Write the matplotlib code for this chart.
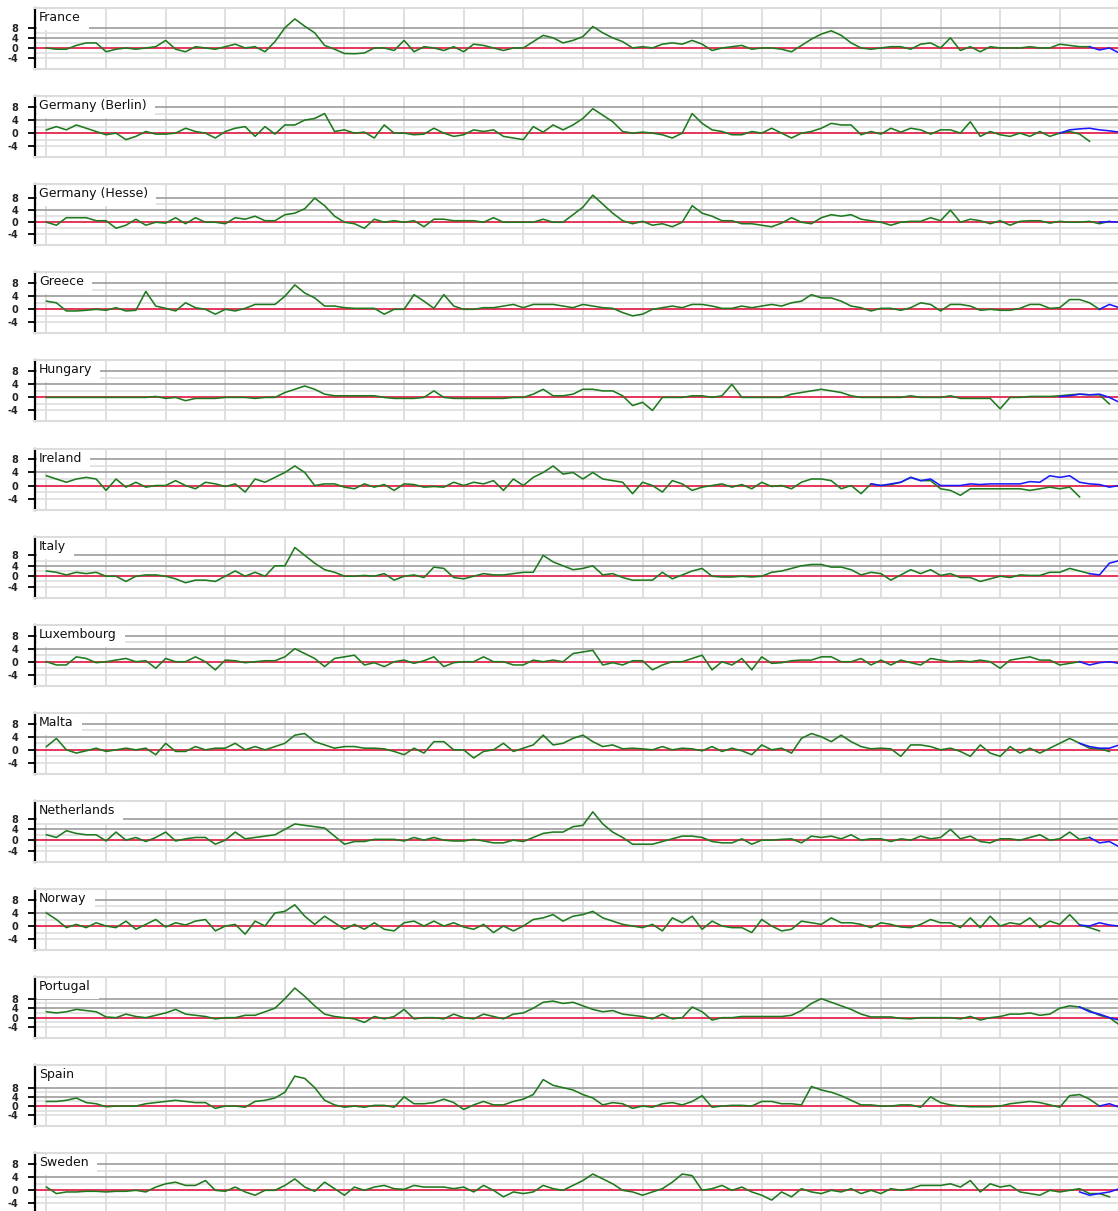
import numpy as np
import matplotlib
matplotlib.use("Agg")
import matplotlib.pyplot as plt
from matplotlib.patches import Rectangle
from matplotlib.transforms import IdentityTransform, offset_copy

# ---------------- data (bimonthly values, month 0 .. 216) ----------------
countries = ["France", "Germany (Berlin)", "Germany (Hesse)", "Greece", "Hungary",
             "Ireland", "Italy", "Luxembourg", "Malta", "Netherlands", "Norway",
             "Portugal", "Spain", "Sweden"]

month_step = 2

france_green = [0, -0.5, -0.5, 1, 2, 2,  -1.5, -0.5, 0, -0.5, 0, 0.5,  3, -0.5, -1.5, 0.5, 0, -0.5,
                0.5, 1.5, 0, 0.5, -1.5, 2.5,  8, 11.5, 8.6, 6, 1, -0.5,  -2.2, -2.3, -2, 0, 0, -1,
                3, -1.5, 0.5, 0, -1, 0.5,  -1.5, 1.5, 1, 0, -1, 0,  0, 2.5, 5, 4, 2, 3,
                4.5, 8.5, 6, 4, 2.5, 0,  0.5, 0, 1.5, 2, 1.5, 3,  1.5, -1, 0, 0.5, 1, -0.5,
                0, 0, -0.5, -1.5, 1, 3.5,  5.5, 6.8, 5, 2, 0, -0.5,  0, 0.5, 0.5, -0.5, 1.5, 2,
                0, 4, -1, 0.5, -1.5, 0.5,  0, 0, 0, 0.5, 0, 0,  1.5, 1, 0.5, 0.5]
france_blue = [0.5, -0.8, 0, -2]

berlin_green = [1, 2, 1, 2.5, 1.5, 0.5,  -0.5, 0, -2, -1, 0.5, -0.3,  -0.3, 0, 1.5, 0.5, 0, -1.5,
                0.5, 1.5, 2, -1, 2, -0.3,  2.5, 2.5, 4, 4.5, 6, 0.5,  1, 0, 0.3, -1.5, 2.5, 0,
                0, -0.5, -0.3, 1.5, 0, -1,  -0.5, 1, 0.5, 1, -1, -1.5,  -2, 2, 0.3, 2.5, 1, 2.5,
                4.5, 7.5, 5.5, 3.5, 0.5, 0,  0.3, 0, -0.5, -1.5, 0, 6,  3, 1, 0.5, -0.5, -0.5, 0.5,
                0, 1.5, 0, -1.5, 0, 0.5,  1.5, 3, 2.5, 2.5, -0.5, 0.5,  -0.3, 1.5, 0.3, 1.5, 1, -0.3,
                1, 1, 0, 3.5, -1, 0.5,  -0.5, -1, 0, -1, 0.5, -1,  0, 0.5, -0.3, -2.5]
berlin_blue = [0, 1, 1.3, 1.5, 1, 0.7, 0.3]

hesse_green = [0, -1, 1.5, 1.5, 1.5, 0.5,  0.5, -2, -1, 1, -1, 0,  -0.3, 1.5, -0.5, 1.5, 0, 0,
               -0.5, 1.5, 1, 2, 0.5, 0.5,  2.5, 3, 4.5, 8, 5.5, 2,  0, -0.5, -2, 1, 0, 0.5,
               0, 0.5, -1.5, 1, 1, 0.5,  0.5, 0.5, 0, 1.5, 0, 0,  0, 0, 1, 0, 0, 2.5,
               5, 9, 6, 3, 0.5, -0.5,  0.3, -1, -0.5, -1.5, 0, 5.5,  3, 2, 0.5, 0.5, -0.5, -0.5,
               -1, -1.5, -0.3, 1.5, 0, -0.5,  1.5, 2.5, 2, 2.5, 1, 0.5,  0, -1, 0, 0.3, 0.3, 1.5,
               0.5, 4, 0, 1, 0.5, -0.5,  0.5, -1, 0.3, 0.5, 0.5, -0.3,  0.3, 0, 0, 0.3, -0.5, 0.3]
hesse_blue = [0, 0.2, 0]

greece_green = [2.5, 2, -0.5, -0.5, -0.3, 0,  -0.3, 0.5, -0.5, -0.3, 5.5, 1,  0.3, -0.5, 2, 0.5, 0, -1.5,
                0, -0.5, 0.3, 1.5, 1.5, 1.5,  4, 7.5, 5, 3.5, 1, 1,  0.5, 0.3, 0.3, 0.3, -1.5, 0,
                0, 4.5, 2.5, 0.3, 4.5, 1,  0, 0, 0.5, 0.5, 1, 1.5,  0.5, 1.5, 1.5, 1.5, 1, 0.5,
                1.5, 1, 0.5, 0.3, -1, -2,  -1.5, 0, 0.5, 1, 0.5, 1.5,  1.5, 1, 0.3, 0.3, 1, 0.5,
                1, 1.5, 1, 2, 2.5, 4.5,  3.5, 3.5, 2.5, 1, 0.5, -0.5,  0.3, 0.3, -0.3, 0.5, 2, 1.5,
                -0.5, 1.5, 1.5, 1, -0.3, 0,  -0.3, -0.3, 0.3, 1.5, 1.5, 0.3,  0.5, 3, 3, 2, 0]
greece_blue = [0, 1.5, 0.5]

hungary_green = [0, 0, 0, 0, 0, 0,  0, 0, 0, 0, 0, 0.3,  -0.3, 0, -1, -0.3, -0.3, -0.3,
                 0, 0, 0, -0.3, 0, 0,  1.5, 2.5, 3.5, 2.5, 1, 0.5,  0.5, 0.5, 0.5, 0.5, 0, -0.3,
                 -0.3, -0.3, 0, 2, 0, -0.3,  -0.3, -0.3, -0.3, -0.3, -0.3, 0,  0, 1, 2.5, 0.5, 0.5, 1,
                 2.5, 2.5, 2, 2, 0.5, -2.5,  -1.5, -4, 0, 0, 0, 0.5,  0.5, 0, 0.5, 4, 0, 0,
                 0, 0, 0, 1, 1.5, 2,  2.5, 2, 1.5, 0.5, 0, 0,  0, 0, 0, 0.5, 0, 0,
                 0, 0.5, -0.3, -0.3, -0.3, -0.3,  -3.5, 0, 0, 0.3, 0.3, 0.3,  0.5, 0.8, 1, 0.8, 0.8, -2]
hungary_blue = [0.3, 0.5, 1, 0.8, 1, 0, -1.5]

ireland_green = [3, 2, 1, 2, 2.5, 2,  -1.5, 2, -0.5, 1, -0.5, 0,  0, 1.5, 0, -1, 1, 0.5,
                 -0.3, 0.5, -2, 2, 1, 2.5,  4, 6, 4, 0, 0.5, 0.5,  -0.5, -1, 0.5, -0.5, 0.3, -1.5,
                 0.5, 0.3, -0.5, -0.3, -0.5, 1,  0, 1, 0.5, 1.5, -1.5, 2,  0, 2.5, 4, 6, 3.5, 4,
                 2, 4, 2, 1.5, 1, -2.5,  1, 0, -2, 1.5, 0.5, -1.5,  -0.5, 0, 0.5, -0.5, 0.3, -1,
                 1, -0.3, 0, -1, 1, 2,  2, 1.5, -1, 0, -2.5, 0.5,  0, 0.3, 1, 2.5, 1.5, 1.5,
                 -1, -1.5, -3, -1, -1, -1,  -1, -1, -1, -1.5, -1, -0.5,  -1, -0.5, -3.5]
ireland_blue = [0.5, 0, 0.5, 1, 2.5, 1.5, 2, 0, 0, 0, 0.5, 0.3, 0.5, 0.5, 0.5, 0.5,
                1.2, 1, 3, 2.5, 3, 1, 0.5, 0.3, -0.5, 0]

italy_green = [2, 1.5, 0.5, 1.5, 1, 1.5,  0, 0, -2, 0, 0.5, 0.5,  0, -1, -2.5, -1.5, -1.5, -2,
               0, 2, 0, 1.5, 0, 4,  4, 11, 8, 5, 2.5, 1.5,  0, 0, 0.3, 0, 1, -1.5,
               0, 0.5, -0.5, 3.5, 3, -0.5,  -1, 0, 1, 0.5, 0.5, 1,  1.5, 1.5, 8, 5.5, 4, 2.5,
               3, 4, 0.5, 1, -0.5, -1.5,  -1.5, -1.5, 1.5, -1, 0.5, 2,  3, 0, -0.3, -0.3, 0, -0.3,
               0, 1.5, 2, 3, 4, 4.5,  4.5, 3.5, 3.5, 2.5, 0.5, 1.5,  1, -1.5, 0.5, 2.5, 1, 2.5,
               0.3, 1, -0.5, -0.5, -2, -1,  0, -0.5, 0.5, 0.3, 0.3, 1.5,  1.5, 3, 2, 1]
italy_blue = [1, 0.5, 5, 6]

lux_green = [0, -1, -1, 1.5, 1, -0.3,  0, 0.5, 1, 0, 0.3, -2,  1, 0, 0, 1.5, 0, -2.5,
             0.5, 0.3, -0.3, 0, 0.3, 0.3,  1.5, 4, 2.5, 1, -1.5, 1,  1.5, 2, -1, -0.3, -1.5, 0,
             0.5, -0.5, 0.3, 1.5, -1.5, -0.3,  0, 0, 1.5, 0, 0, -1,  -1, 0.5, 0, 0.5, 0, 2.5,
             3, 3.5, -1, -0.3, -1, 0.3,  0.3, -2.5, -1, 0, 0, 1,  2, -2.5, 0, -1, 1, -2.5,
             1.5, -0.5, -0.3, 0.3, 0.5, 0.5,  1.5, 1.5, 0, 0, 1, -1,  0.5, -1, 0.5, -0.3, -1, 1,
             0.5, 0, 0.3, 0, 0.5, 0,  -2, 0.5, 1, 1.5, 0.5, 0.5,  -1, -0.5, 0]
lux_blue = [0, -1, -0.3, 0, -0.5]

malta_green = [1, 3.5, 0, -1, -0.3, 0.5,  -0.5, 0, 0.5, 0, 0.5, -1.5,  2, -0.5, -0.5, 1, 0, 0.5,
               0.5, 2, 0, 1, 0, 1,  2, 4.5, 5, 2.5, 1.5, 0.5,  1, 1, 0.5, 0.5, 0.3, -0.5,
               -1.5, 0.5, -1, 2.5, 2.5, 0,  0, -2.5, -0.5, 0, 2, -0.5,  0.5, 1.5, 4.5, 1.5, 2, 3.5,
               4.5, 2.5, 1, 1.5, 0.3, 0.5,  0.3, 0, 1, 0, 0.5, 0.3,  -0.3, 1, -0.5, 0.5, -0.3, -1.5,
               1.5, 0, 0.5, -1, 3.5, 5,  4, 2.5, 4.5, 2.5, 1, 0.3,  0.5, 0.3, -2, 1.5, 1.5, 1,
               0, 0.5, -0.5, -2, 1.5, -1,  -2, 1, -1, 0.5, -1, 0.5,  2, 3.5, 2, 0.5, 0.3, -0.5]
malta_blue = [2, 1, 0.5, 0.5, 1.5]

netherlands_green = [2, 1, 3.5, 2.5, 2, 2,  -0.3, 3, 0, 1, -0.5, 1,  3, -0.3, 0.5, 1, 1, -1.5,
                     0, 3, 0.5, 1, 1.5, 2,  4, 6, 5.5, 5, 4.5, 1.5,  -1.5, -0.5, -0.5, 0.3, 0.3, 0.3,
                     -0.3, 1, 0, 1, 0, -0.3,  -0.3, 0.3, -0.3, -1, -1, 0,  -0.5, 1, 2.5, 3, 3, 5,
                     5.5, 10.5, 6, 3, 1, -1.5,  -1.5, -1.5, -0.5, 0.5, 1.5, 1.5,  1, -0.5, -1, -1, 0.5, -1.5,
                     0, 0, 0.3, 0.5, -1, 1.5,  1, 1.5, 0.5, 2, 0, 0.5,  0.5, -0.5, 0.5, 0, 1.5, 0.5,
                     1, 4, 0.5, 1.5, -0.5, -1,  0.5, 0.5, 0, 1, 2, 0,  0.5, 3, 0.3, 1]
netherlands_blue = [1, -1, -0.5, -2.5]

norway_green = [4, 2, -0.5, 0.5, -0.5, 1,  0, -0.5, 1.5, -1, 0.5, 2,  -0.3, 1, 0.3, 1.5, 2, -1.5,
                0, 0.5, -2.5, 1.5, 0, 4,  4.5, 6.5, 3, 0.5, 3, 1,  -1, 0.5, -1, 1, -1, -1.5,
                1, 1.5, 0, 1.5, 0, 1,  -0.3, -1, 0.5, -2, 0, -1.5,  0, 2, 2.5, 3.5, 1.5, 3,
                3.5, 4.5, 2.5, 1.5, 0.5, 0,  -0.5, 0.5, -1.5, 2.5, 1, 3,  -1, 1.5, 0, -0.5, -0.5, -2,
                2, 0, -1.5, -1, 1.5, 1,  0.5, 2.5, 1, 1, 0.5, -0.5,  1, 0.5, -0.3, -0.5, 0.5, 2,
                1, 1, -0.5, 2.5, -0.5, 3,  0, 1, 0.5, 2.5, -0.5, 1.5,  0.5, 3.5, 0.3, -0.5, -1.5]
norway_blue = [0.3, 0, 1, 0.3, 0]

portugal_green = [2.5, 2, 2.5, 3.5, 3, 2.5,  0.3, 0, 1.5, 0.5, 0, 1,  2, 3.5, 1.5, 1, 0.5, -0.5,
                  0, 0, 1, 1, 2.5, 4,  8, 12.5, 9, 5, 1.5, 0.5,  0, -0.5, -2, 0.5, -0.5, 0.5,
                  3.5, -0.5, 0, 0, -0.5, 1.5,  0, -0.5, 1.5, 0.5, -0.5, 1.5,  2, 4, 6.5, 7, 6, 6.5,
                  5, 3.5, 2.5, 3, 1.5, 1,  0.5, -0.5, 1.5, -0.5, 0, 4.5,  2.5, -1, 0, 0, 0.5, 0.5,
                  0.5, 0.5, 0.5, 1, 3, 6,  8, 6.5, 5, 3.5, 1.5, 0.3,  0.3, 0.3, -0.3, -0.5, 0, 0,
                  0, 0, -0.5, 0.5, -1, 0,  0.5, 1.5, 1.5, 2, 1, 1.5,  4, 5, 4.5, 3, 1, 0, -3]
portugal_blue = [4.5, 2.5, 1.5, 0, -1]

spain_green = [2, 2, 2.5, 3.5, 1.5, 1,  -0.3, 0, 0, 0, 1, 1.5,  2, 2.5, 2, 1.5, 1.5, -1,
               0, 0, -0.5, 2, 2.5, 3.5,  6, 13, 12, 8, 2.5, 0.5,  -0.5, 0, -0.5, 0.3, 0.3, -0.5,
               4, 1, 1, 1.5, 3, 1.5,  -1.5, 0.5, 2, 0.5, 0.5, 2,  3, 5, 11.5, 9, 8, 7,
               5, 3.5, 0.5, 1.5, 1, -1,  0, -0.5, 1, 1.5, 0.5, 2,  4.5, -0.5, 0, 0.3, 0.3, 0,
               2, 2, 1, 1, 0.5, 8.5,  7, 6, 4.5, 2.5, 0.5, 0.5,  0, 0, 0.5, 0.5, -0.5, 4,
               1.5, 0.5, 0, -0.3, -0.3, -0.3,  0, 1, 1.5, 2, 1.5, 0.5,  -0.5, 4.5, 5, 3, 0]
spain_blue = [0, 1, -0.5]

sweden_green = [1, -1, -0.5, -0.5, -0.3, -0.3,  -0.5, -0.3, -0.3, 0, -0.5, 1,  2, 2.5, 1.5, 1.5, 3, 0,
                -0.3, 1, -0.5, -1.5, 0, 0,  1.5, 3.5, 1, -0.3, 2.5, 0.5,  -1.5, 1, 0, 1, 1.5, 0.5,
                0.3, 1.5, 1, 1, 1, 0.5,  1, -0.5, 1.5, 0, -2, -0.5,  -1, -0.5, 1.5, 0.5, 0, 1.5,
                3, 5, 3.5, 2, 0, -0.5,  -1.5, -0.5, 0.5, 2.5, 5, 4.5,  0, 0.5, 1.5, 0, 1, -0.5,
                -1.5, -3, -0.5, -2, 0.5, -0.5,  -1, 0, -0.5, 0.5, -1, 0,  -1, 0.5, 0, 0.5, 1.5, 1.5,
                1.5, 2, 1, 3, -0.5, 2,  1, 1.5, -0.5, -1, -1.5, 0,  -0.5, 0, 0.5, -1, -1, -2]
sweden_blue = [-0.5, -1.5, -1, -0.5, 0.5]

green_series = [france_green, berlin_green, hesse_green, greece_green, hungary_green,
                ireland_green, italy_green, lux_green, malta_green, netherlands_green,
                norway_green, portugal_green, spain_green, sweden_green]
blue_series = [france_blue, berlin_blue, hesse_blue, greece_blue, hungary_blue,
               ireland_blue, italy_blue, lux_blue, malta_blue, netherlands_blue,
               norway_blue, portugal_blue, spain_blue, sweden_blue]
blue_start = [210, 204, 212, 212, 204, 166, 210, 208, 208, 210, 208, 208, 212, 208]

ytick_values = [8, 4, 0, -4]
ytick_labels = ["8", "4", "0", "-4"]
dark_levels = [8, 4]
light_levels = [6, 2, -2, -4]
year_months = list(range(0, 217, 12))

# ---------------- layout ----------------
W, H = 1118, 1211
fig = plt.figure(figsize=(W / 100, H / 100), dpi=100)
fig.patch.set_facecolor("white")

AX_LEFT_PX = 35
AX_H_PX = 61
PANEL_STEP_PX = 88.1
FIRST_TOP_PX = 8
XLIM = (-2.31, 215.73)

axes, labels = [], []
for i, name in enumerate(countries):
    top = FIRST_TOP_PX + PANEL_STEP_PX * i
    ax = fig.add_axes([AX_LEFT_PX / W, 1 - (top + AX_H_PX) / H,
                       (W - AX_LEFT_PX) / W, AX_H_PX / H])
    g = np.array(green_series[i], dtype=float)
    xg = np.arange(len(g)) * month_step
    b = np.array(blue_series[i], dtype=float)
    xb = blue_start[i] + np.arange(len(b)) * month_step

    hi = max(8.0, g.max(), b.max())
    lo = min(-4.0, g.min(), b.min())
    pad = 0.28 * (hi - lo)
    ax.set_ylim(lo - pad, hi + pad)
    ax.set_xlim(*XLIM)

    for m in year_months:
        ax.axvline(m, color="#e0e0e0", lw=1.4, zorder=0.5)
    for lv in light_levels:
        ax.axhline(lv, color="#dedede", lw=1.2, zorder=0.6)
    for lv in dark_levels:
        ax.axhline(lv, color="#9c9c9c", lw=1.2, zorder=0.7)

    ax.axhline(0, color="#e0143f", lw=1.2, zorder=1.5)
    ax.plot(xg, g, color="#1f7a1f", lw=1.15, zorder=2)
    ax.plot(xb, b, color="#1a1aff", lw=1.15, zorder=4)

    ax.set_xticks([])
    ax.set_yticks(ytick_values)
    ax.set_yticklabels(ytick_labels)
    ax.tick_params(axis="y", direction="out", length=5, width=1.3, color="black",
                   pad=7, labelsize=7, labelcolor="#222222")
    for lab in ax.get_yticklabels():
        lab.set_fontweight("bold")

    ax.spines["left"].set_color("black")
    ax.spines["left"].set_linewidth(1.6)
    for s in ("top", "bottom"):
        ax.spines[s].set_color("#dcdcdc")
        ax.spines[s].set_linewidth(1.5)
    ax.spines["right"].set_visible(False)
    ax.set_facecolor("white")

    t = ax.text(0, 1, name,
                transform=offset_copy(ax.transAxes, fig=fig, x=4, y=-3, units="dots"),
                ha="left", va="top", fontsize=9, color="#111111", zorder=8,
                family="DejaVu Sans")
    axes.append(ax)
    labels.append(t)

fig.canvas.draw()
renderer = fig.canvas.get_renderer()
for ax, t in zip(axes, labels):
    tb = t.get_window_extent(renderer)
    ab = ax.get_window_extent(renderer)
    x0 = ab.x0 + 1.5
    y1 = ab.y1 - 1.5
    rect = Rectangle((x0, y1 - 20.5), tb.x1 + 8 - x0, 20.5,
                     transform=IdentityTransform(), facecolor="white",
                     edgecolor="none", zorder=7, clip_on=False)
    ax.add_artist(rect)

fig.savefig("out.png", dpi=100, facecolor="white")
